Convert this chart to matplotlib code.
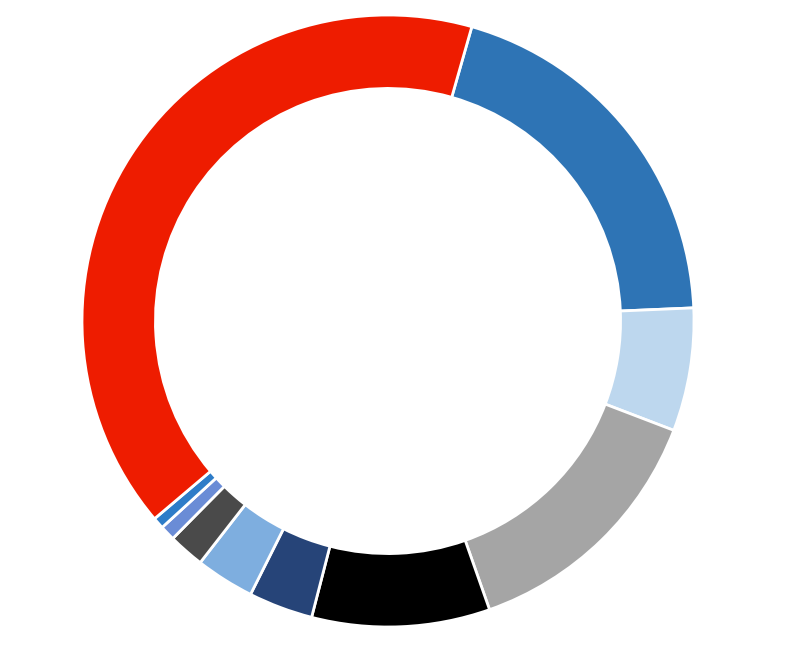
import numpy as np
import matplotlib.pyplot as plt

# slice sizes (percent), clockwise from the red/blue split
labels = ['blue', 'light blue', 'gray', 'black', 'navy', 'sky', 'dark gray', 'periwinkle', 'small blue', 'red']
values = [19.9, 6.5, 13.8, 9.4, 3.4, 3.1, 1.9, 0.8, 0.6, 40.6]
colors = ['#2E74B5', '#BDD7EE', '#A5A5A5', '#000000', '#264478',
          '#7EAEDF', '#4A4A4A', '#6A8CD6', '#2E7CC8', '#EE1C00']

fig = plt.figure(figsize=(7.87, 6.51), dpi=100)
ax = fig.add_axes([82 / 787, 24 / 651, 612 / 787, 612 / 651])

ax.pie(values, colors=colors, radius=1, startangle=74.1, counterclock=False,
       wedgeprops=dict(width=0.24, edgecolor='white', linewidth=2))
ax.set_xlim(-1, 1)
ax.set_ylim(-1, 1)
ax.set_aspect('equal')
ax.axis('off')

fig.savefig('out.png', dpi=100)
